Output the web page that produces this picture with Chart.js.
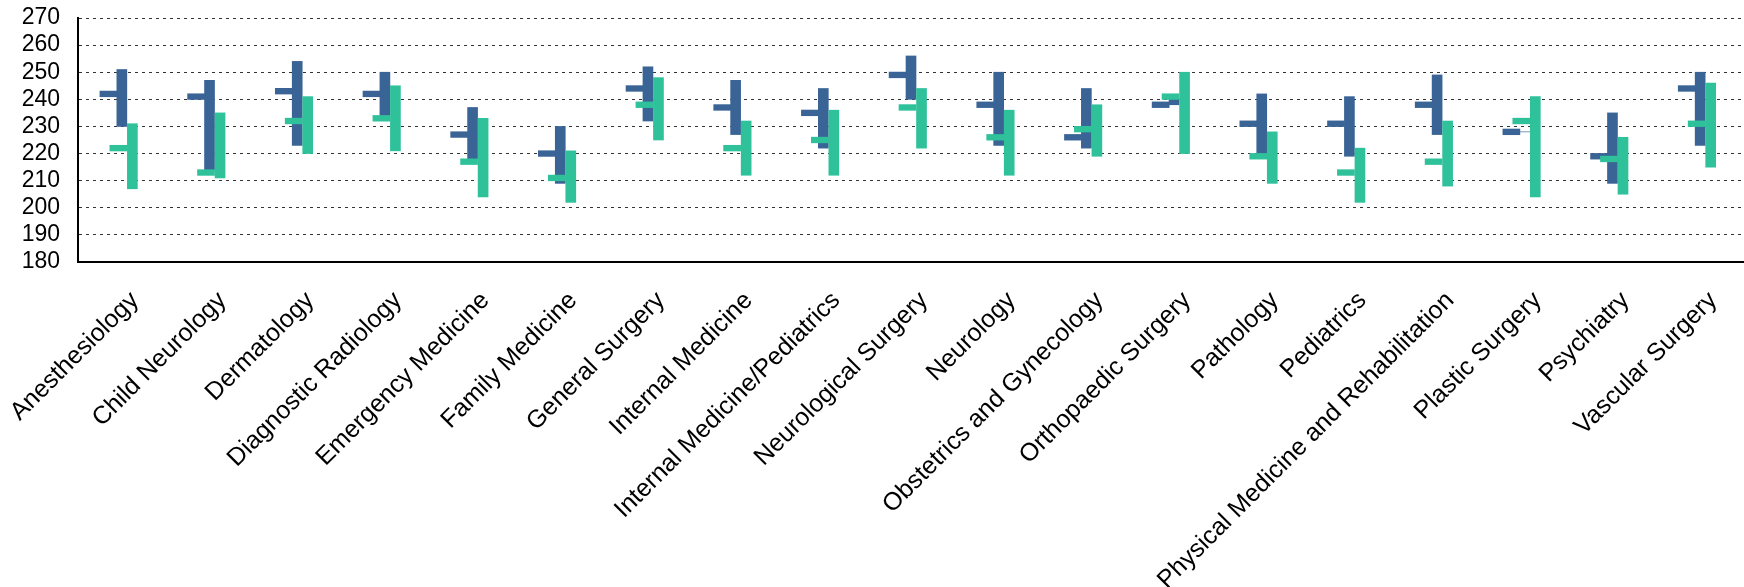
<!DOCTYPE html>
<html>
<head>
<meta charset="utf-8">
<script src="https://cdn.jsdelivr.net/npm/chart.js@4/dist/chart.umd.min.js"></script>
<style>
  html, body { margin: 0; padding: 0; background: #fff; }
  #wrap { width: 1744px; height: 587px; }
</style>
</head>
<body>
<div id="wrap"><canvas id="chart" width="1744" height="587"></canvas></div>
<script>
const categories = [
  "Anesthesiology", "Child Neurology", "Dermatology", "Diagnostic Radiology",
  "Emergency Medicine", "Family Medicine", "General Surgery", "Internal Medicine",
  "Internal Medicine/Pediatrics", "Neurological Surgery", "Neurology",
  "Obstetrics and Gynecology", "Orthopaedic Surgery", "Pathology", "Pediatrics",
  "Physical Medicine and Rehabilitation", "Plastic Surgery", "Psychiatry", "Vascular Surgery"
];

// dark blue series
const blueHigh = [251, 247, 254, 250, 237, 230, 252, 247, 244, 256, 250, 244, 240, 242, 241, 249, 228, 235, 250];
const blueLow  = [230, 214, 223, 234, 218, 209, 232, 227, 222, 240, 223, 222, 238, 220, 219, 227, 228, 209, 223];
const blueMid  = [242, 241, 243, 242, 227, 220, 244, 237, 235, 249, 238, 226, 238, 231, 231, 238, 228, 219, 244];

// teal series
const tealHigh = [231, 235, 241, 245, 233, 221, 248, 232, 236, 244, 236, 238, 250, 228, 222, 232, 241, 226, 246];
const tealLow  = [207, 211, 220, 221, 204, 202, 225, 212, 212, 222, 212, 219, 220, 209, 202, 208, 204, 205, 215];
const tealMid  = [222, 213, 232, 233, 217, 211, 238, 222, 225, 237, 226, 229, 241, 219, 213, 217, 232, 218, 231];

const yTicks = [180, 190, 200, 210, 220, 230, 240, 250, 260, 270];

const BLUE = "#3a6496";
const TEAL = "#2fc19a";
const TICK_HALF = 1.05; // half height of the horizontal marker, in axis units

function rangeData(high, low, shift) {
  return high.map((h, i) => ({ x: i + shift, y: [low[i], h] }));
}
function tickData(mid, shift) {
  return mid.map((m, i) => ({ x: i + shift, y: [m - TICK_HALF, m + TICK_HALF] }));
}

const font = { family: "'Liberation Sans', Arial, sans-serif" };

new Chart(document.getElementById("chart"), {
  type: "bar",
  data: {
    labels: categories,
    datasets: [
      { data: rangeData(blueHigh, blueLow, 0), backgroundColor: BLUE, barThickness: 10, order: 4 },
      { data: tickData(blueMid, -0.153), backgroundColor: BLUE, barThickness: 17, order: 3 },
      { data: rangeData(tealHigh, tealLow, 0.12), backgroundColor: TEAL, barThickness: 10, order: 2 },
      { data: tickData(tealMid, -0.04), backgroundColor: TEAL, barThickness: 17, order: 1 },
    ].map(d => Object.assign(d, { xAxisID: "pos", grouped: false, borderWidth: 0 })),
  },
  options: {
    responsive: false,
    animation: false,
    devicePixelRatio: 1,
    layout: { padding: { top: 18, right: 0, bottom: 0, left: 0 } },
    plugins: { legend: { display: false }, tooltip: { enabled: false } },
    scales: {
      x: {
        type: "category",
        offset: true,
        grid: { display: false, drawTicks: false },
        border: { display: true, color: "#000", width: 2 },
        ticks: {
          color: "#000",
          font: { ...font, size: 25 },
          minRotation: 45,
          maxRotation: 45,
          padding: 24,
          labelOffset: 13,
          autoSkip: false,
        },
        afterFit: (s) => { s.height = 325; s.paddingLeft = 0; s.paddingRight = 0; },
      },
      pos: {
        type: "linear",
        display: false,
        offset: false,
        grid: { offset: false },
        min: -0.5,
        max: categories.length - 0.5,
      },
      y: {
        min: 180,
        max: 270,
        afterBuildTicks: (s) => { s.ticks = yTicks.map(v => ({ value: v })); },
        grid: {
          color: (c) => (c.tick && c.tick.value === 180 ? "rgba(0,0,0,0)" : "#333"),
          lineWidth: 1,
          drawTicks: false,
        },
        border: { display: true, color: "#000", width: 2, dash: [3, 4] },
        ticks: { color: "#000", font: { ...font, size: 23 }, padding: 18, autoSkip: false },
        afterFit: (s) => { s.width = 78; s.paddingTop = 0; s.paddingBottom = 0; },
      },
    },
  },
});
</script>
</body>
</html>
